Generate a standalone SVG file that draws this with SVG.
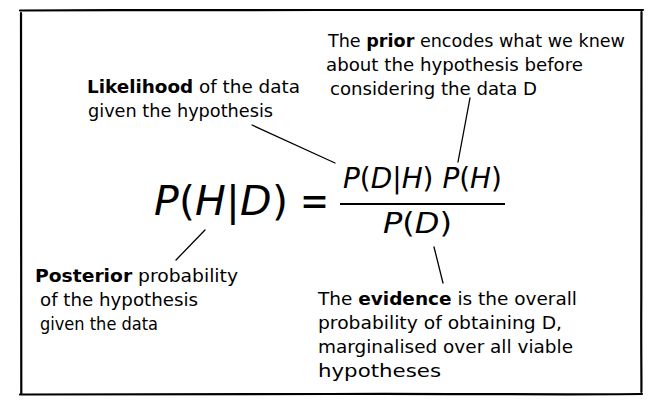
<svg xmlns="http://www.w3.org/2000/svg" width="651" height="416" viewBox="0 0 651 416">
<style>
.frame{fill:none;stroke:#000;stroke-width:2.2;stroke-linecap:round}
.conn{fill:none;stroke:#000;stroke-width:1.3;stroke-linecap:round}
.lbl{font-family:"DejaVu Sans","Liberation Sans",sans-serif;font-size:17.5px;fill:#000}
.b{font-weight:bold}
.math{font-family:"DejaVu Sans","Liberation Sans",sans-serif;fill:#000}
.big{font-size:41px}
.it{font-style:italic}
</style>
<rect width="651" height="416" fill="#fff"/>
<g id="frame">
<path class="frame" d="M20 10.5 C120 9.5 200 11 320 10 C420 9.2 520 11 643 10"/>
<path class="frame" d="M21 13 C21.5 100 20.5 200 21.2 300 C21.5 350 21 380 21.3 394"/>
<path class="frame" d="M641.5 12 C641 100 642 200 641.3 300 C641 350 641.6 380 641.4 392"/>
<path class="frame" d="M20 394.5 C120 393.5 220 395 330 394 C430 393.3 540 395 642 394"/>
</g>
<g id="connectors">
<line class="conn" x1="252" y1="125" x2="335" y2="163"/>
<line class="conn" x1="470" y1="98" x2="458" y2="162"/>
<line class="conn" x1="205" y1="230" x2="176" y2="260"/>
<line class="conn" x1="434" y1="247" x2="443" y2="283"/>
</g>
<g id="equation">
<text class="math big it" x="154" y="215">P</text>
<text class="math big" x="179" y="215">(</text>
<text class="math big it" x="195" y="215">H</text>
<text class="math big" x="226" y="215">|</text>
<text class="math big it" x="240" y="215">D</text>
<text class="math big" x="272" y="215">)</text>
<text class="math" x="300" y="215" font-size="43" textLength="29" lengthAdjust="spacingAndGlyphs">=</text>
<text class="math" x="343" y="188" font-size="28" textLength="159" lengthAdjust="spacingAndGlyphs"><tspan class="it">P</tspan>(<tspan class="it">D</tspan>|<tspan class="it">H</tspan>) <tspan class="it">P</tspan>(<tspan class="it">H</tspan>)</text>
<line x1="340" y1="204" x2="505" y2="204" stroke="#000" stroke-width="2.2"/>
<text class="math" x="383" y="233" font-size="28" textLength="69" lengthAdjust="spacingAndGlyphs"><tspan class="it">P</tspan>(<tspan class="it">D</tspan>)</text>
</g>
<g id="prior">
<text class="lbl" x="328" y="47" textLength="297" lengthAdjust="spacingAndGlyphs">The <tspan class="b">prior</tspan> encodes what we knew</text>
<text class="lbl" x="326" y="71" textLength="257" lengthAdjust="spacingAndGlyphs">about the hypothesis before</text>
<text class="lbl" x="330" y="95" textLength="207" lengthAdjust="spacingAndGlyphs">considering the data D</text>
</g>
<g id="likelihood">
<text class="lbl" x="87" y="93" textLength="213" lengthAdjust="spacingAndGlyphs"><tspan class="b">Likelihood</tspan> of the data</text>
<text class="lbl" x="88" y="117" textLength="185" lengthAdjust="spacingAndGlyphs">given the hypothesis</text>
</g>
<g id="posterior">
<text class="lbl" x="35" y="282" textLength="203" lengthAdjust="spacingAndGlyphs"><tspan class="b">Posterior</tspan> probability</text>
<text class="lbl" x="40" y="306" textLength="158" lengthAdjust="spacingAndGlyphs">of the hypothesis</text>
<text class="lbl" x="40" y="330" textLength="118" lengthAdjust="spacingAndGlyphs">given the data</text>
</g>
<g id="evidence">
<text class="lbl" x="318" y="305" textLength="259" lengthAdjust="spacingAndGlyphs">The <tspan class="b">evidence</tspan> is the overall</text>
<text class="lbl" x="318" y="329" textLength="244" lengthAdjust="spacingAndGlyphs">probability of obtaining D,</text>
<text class="lbl" x="318" y="353" textLength="255" lengthAdjust="spacingAndGlyphs">marginalised over all viable</text>
<text class="lbl" x="318" y="377" textLength="123" lengthAdjust="spacingAndGlyphs">hypotheses</text>
</g>
</svg>
